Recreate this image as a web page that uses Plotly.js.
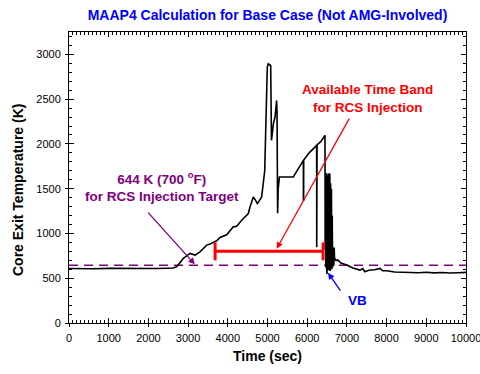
<!DOCTYPE html>
<html><head><meta charset="utf-8">
<script src="https://cdn.plot.ly/plotly-3.0.1.min.js"></script>
<style>html,body{margin:0;padding:0;background:#fff}#chart{width:480px;height:374px}</style>
</head><body><div id="chart"></div>
<script>
// Core exit temperature (K) vs time (s)
const timeSec = [0, 300, 600, 1000, 1400, 1800, 2200, 2500, 2620, 2712, 2880, 3048, 3174, 3300, 3468, 3552, 3719, 3804, 3972, 4139, 4223, 4349, 4517, 4560,
  4643, 4700, 4744, 4800, 4853, 4930, 4995, 5020, 5080, 5100, 5150, 5190, 5230, 5240, 5255, 5270, 5300, 5315, 5450, 5650, 5777, 5903, 5905, 5910, 5912, 6050, 6238, 6240, 6245, 6248, 6350, 6448, 6452, 6460,
  6470, 6480, 6490, 6500, 6510, 6520, 6530, 6540, 6550, 6560, 6570, 6580, 6590, 6600, 6610, 6620, 6630, 6640, 6650, 6660, 6670, 6680, 6690, 6700, 6720, 6776, 6850, 6995, 7150, 7330, 7400, 7450, 7550, 7700, 7834, 7900, 8002,
  8200, 8400, 8600, 8800, 9000, 9200, 9400, 9600, 9800, 10000];
const coreExitTemp = [608, 604, 606, 610, 607, 611, 609, 612, 614, 628, 721, 777, 758, 795, 870, 881, 918, 955, 985, 1074, 1081, 1148, 1223, 1297,
  1408, 1370, 1334, 1370, 1408, 1700, 2857, 2895, 2876, 2040, 2230, 2300, 2486, 2350, 1226, 1500, 1630, 1631, 1631, 1631, 1724, 1817, 1371, 1371, 1820, 1900, 1984, 847, 850, 1990, 2030, 2096, 814, 1600,
  620, 1672, 600, 546, 1650, 610, 1672, 590, 1600, 620, 1670, 580, 1560, 640, 1500, 600, 1200, 620, 760, 847, 640, 840, 700, 720, 700, 702, 670, 647, 615, 591, 609, 572, 590, 595, 610, 583, 583,
  570, 565, 568, 562, 566, 560, 564, 558, 562, 565];
const targetTemp = 644;            // 644 K (700 °F) injection target
const bandTimes = [3680, 6400];    // available time band for RCS injection
const bandLevel = [800, 800];

const fontFam = 'Arial, "Liberation Sans", sans-serif';
const traces = [
  {x: [0, 10000], y: [targetTemp, targetTemp], mode: 'lines', line: {color: '#800080', width: 1.5, dash: '9px,6px'}, hoverinfo: 'skip'},
  {x: timeSec, y: coreExitTemp, mode: 'lines', line: {color: '#000', width: 1.6}},
  {x: bandTimes, y: bandLevel, mode: 'lines', line: {color: '#ff0000', width: 3},
   error_y: {type: 'constant', value: 100, color: '#ff0000', thickness: 3, width: 0}},
  {x: [0], y: [0], xaxis: 'x2', yaxis: 'y2', mode: 'markers', marker: {opacity: 0}, hoverinfo: 'skip'}
];
const commonAxis = {showgrid: false, zeroline: false, showline: true, linecolor: '#000', linewidth: 1,
  mirror: 'allticks', ticks: 'inside', ticklen: 5, tickwidth: 1, tickcolor: '#000', ticklabelstandoff: 5,
  ticklabeloverflow: 'allow', tickfont: {family: fontFam, size: 11, color: '#000'}, tickformat: 'd'};
const layout = {
  width: 480, height: 374,
  margin: {l: 69, r: 14, t: 32, b: 51},
  paper_bgcolor: '#fff', plot_bgcolor: '#fff',
  showlegend: false,
  font: {family: fontFam, size: 11, color: '#000'},
  title: {text: 'MAAP4 Calculation for Base Case (Not AMG-Involved)', font: {family: fontFam, size: 14, color: '#0000ff', weight: 'bold'},
          x: 0.5, xref: 'paper', y: 1 - 15/374, yanchor: 'middle'},
  xaxis: Object.assign({}, commonAxis, {range: [0, 10000], dtick: 1000, tick0: 0,
          minor: {dtick: 100, tick0: 0, ticks: 'inside', ticklen: 3, tickwidth: 1, tickcolor: '#000', showgrid: false},
          title: {text: 'Time (sec)', font: {family: fontFam, size: 14, weight: 'bold'}, standoff: 7}}),
  yaxis: Object.assign({}, commonAxis, {range: [0, 3250], dtick: 500, tick0: 0,
          minor: {dtick: 100, tick0: 0, ticks: 'inside', ticklen: 3, tickwidth: 1, tickcolor: '#000', showgrid: false}}),
  xaxis2: {overlaying: 'x', anchor: 'y', side: 'bottom', range: [0, 10000], dtick: 1000, tick0: 0, ticks: 'outside', ticklen: 3,
           tickcolor: '#000', showticklabels: false, showgrid: false, zeroline: false, showline: false},
  yaxis2: {overlaying: 'y', anchor: 'x', side: 'left', range: [0, 3250], dtick: 500, tick0: 0, ticks: 'outside', ticklen: 3,
           tickcolor: '#000', showticklabels: false, showgrid: false, zeroline: false, showline: false},
  annotations: [
    {x: 18, y: 190, xref: 'paper', yref: 'paper', showarrow: false, textangle: -90,
     text: 'Core Exit Temperature (K)', font: {family: fontFam, size: 14, color: '#000', weight: 'bold'}},
    {x: 162, y: 186.5, xref: 'paper', yref: 'paper', showarrow: false, align: 'center',
     text: '644 K (700 <sup>o</sup>F)<br>for RCS Injection Target', font: {family: fontFam, size: 13.5, color: '#800080', weight: 'bold'}},
    {x: 3170, y: 655, ax: 1960, ay: 1250, xref: 'x', yref: 'y', axref: 'x', ayref: 'y', text: '', showarrow: true,
     arrowcolor: '#800080', arrowwidth: 1.3, arrowhead: 2, arrowsize: 1},
    {x: 367, y: 98.5, xref: 'paper', yref: 'paper', showarrow: false, align: 'center',
     text: 'Available Time Band<br>for RCS Injection', font: {family: fontFam, size: 13.5, color: '#ff0000', weight: 'bold'}},
    {x: 5230, y: 830, ax: 7080, ay: 2300, xref: 'x', yref: 'y', axref: 'x', ayref: 'y', text: '', showarrow: true,
     arrowcolor: '#ff0000', arrowwidth: 1.3, arrowhead: 2, arrowsize: 1},
    {x: 357, y: 300, xref: 'paper', yref: 'paper', showarrow: false,
     text: 'VB', font: {family: fontFam, size: 13.5, color: '#0000ff', weight: 'bold'}},
    {x: 6524, y: 560, ax: 6950, ay: 290, xref: 'x', yref: 'y', axref: 'x', ayref: 'y', text: '', showarrow: true,
     arrowcolor: '#0000ff', arrowwidth: 1.3, arrowhead: 2, arrowsize: 1, standoff: 0, startstandoff: 6}
  ]
};
// convert pixel positions of free text labels into paper coordinates
const pw = 480 - 69 - 14, ph = 374 - 32 - 51;
layout.annotations.forEach(a => {
  if (a.xref === 'paper') { a.x = (a.x - 69) / pw; a.y = 1 - (a.y - 32) / ph; a.xanchor = 'center'; a.yanchor = 'middle'; }
});
Plotly.newPlot('chart', traces, layout, {staticPlot: true, displayModeBar: false});
</script></body></html>
